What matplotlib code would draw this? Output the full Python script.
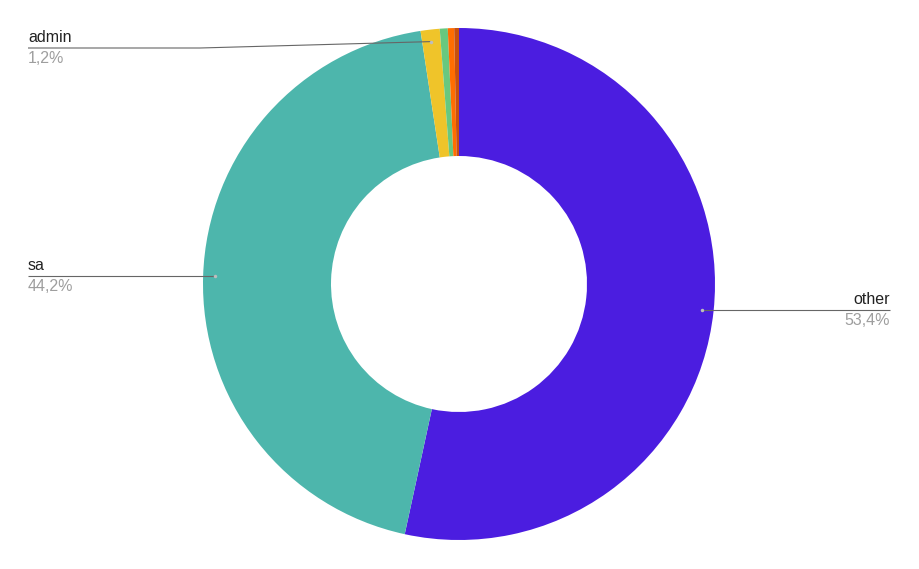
import matplotlib
matplotlib.use("Agg")
import numpy as np
import matplotlib.pyplot as plt

# slices, clockwise from 12 o'clock
labels = ["other", "sa", "admin", "g", "o", "b"]
values = [53.4, 44.2, 1.2, 0.5, 0.4, 0.3]
pct_text = ["53,4%", "44,2%", "1,2%", "", "", ""]
colors = ["#4b1de0", "#4db6ac", "#efc42a", "#68c87f", "#ff6d01", "#c8500f"]

W, H = 919, 569
fig = plt.figure(figsize=(W / 100, H / 100), dpi=100)
ax = fig.add_axes([0, 0, 1, 1])

cx, cy, r = 459, H - 284, 256
wedges, _ = ax.pie(values, colors=colors, startangle=90, counterclock=False,
                   radius=r, center=(cx, cy), frame=True,
                   wedgeprops=dict(width=r * 0.5, linewidth=0))
ax.set_xlim(0, W)
ax.set_ylim(0, H)
ax.set_aspect("equal")
ax.axis("off")

font = "Liberation Sans"
lc = "#666666"
# label anchors (pixel coords from top): (line y, text x, side, bend x)
anchors = {"other": (310, 890, "right", None),
           "sa": (276, 28, "left", None),
           "admin": (48, 28, "left", 200)}

for w, lab, pct in zip(wedges, labels, pct_text):
    if lab not in anchors:
        continue
    ang = np.deg2rad((w.theta1 + w.theta2) / 2)
    dx, dy = cx + 0.953 * r * np.cos(ang), cy + 0.953 * r * np.sin(ang)
    ly, tx, side, bend = anchors[lab]
    ly = H - ly
    if bend is None:
        xs, ys = [dx, tx], [ly, ly]
    else:
        xs, ys = [dx, bend, tx], [dy, ly, ly]
    ax.plot(xs, ys, color=lc, lw=0.8, solid_capstyle="butt")
    ax.plot(dx, dy, "o", ms=2.5, color="#bdbdbd", mec="none")
    ax.text(tx, ly + 3, lab, ha=side, va="bottom", fontsize=11.5,
            family=font, color="#222222")
    ax.text(tx, ly - 3, pct, ha=side, va="top", fontsize=11.5,
            family=font, color="#9e9e9e")

fig.savefig("out.png", dpi=100, facecolor="white")
